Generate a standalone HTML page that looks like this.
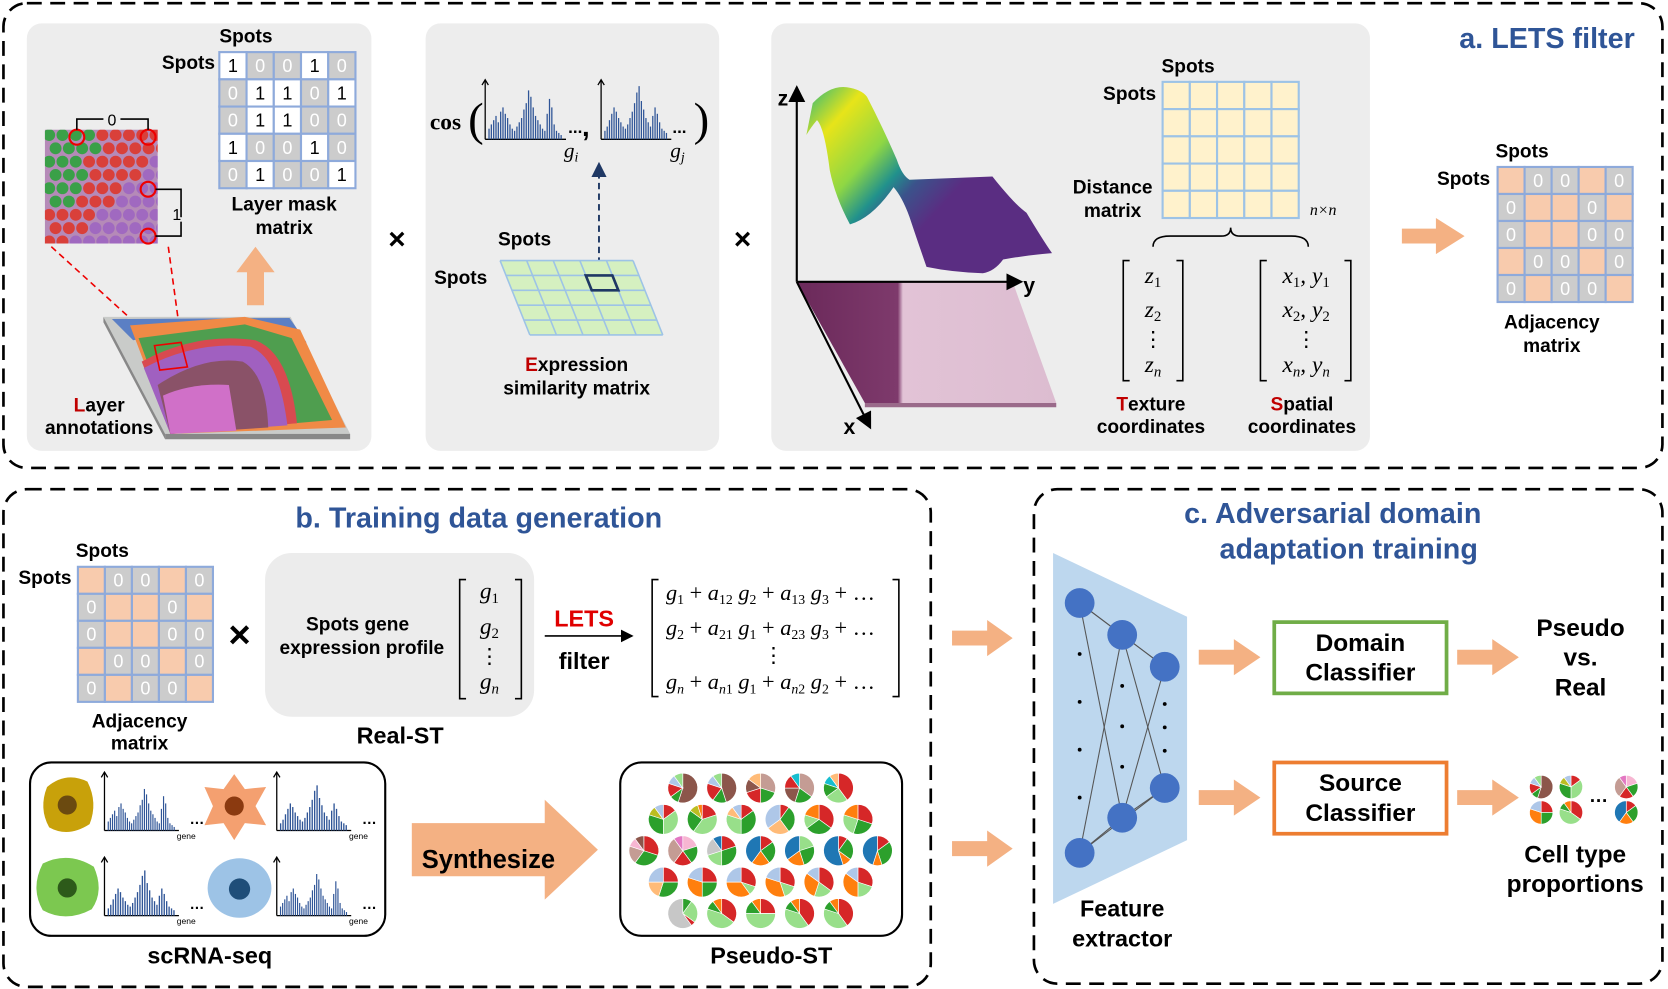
<!DOCTYPE html>
<html><head><meta charset="utf-8"><style>
html,body{margin:0;padding:0;background:#fff;width:1668px;height:989px;overflow:hidden}
svg{display:block}
text{font-family:"Liberation Sans",sans-serif}
.b{font-weight:bold}
.m{font-family:"Liberation Serif",serif;font-style:italic}
</style></head><body>
<svg id="fig" width="1668" height="989" viewBox="0 0 1568 930" xmlns="http://www.w3.org/2000/svg">
<defs>
<linearGradient id="surf" gradientUnits="userSpaceOnUse" x1="758" y1="90" x2="880" y2="200"><stop offset="0" stop-color="#3fbc73"/><stop offset="0.22" stop-color="#e7e419"/><stop offset="0.5" stop-color="#8fd744"/><stop offset="0.68" stop-color="#21918c"/><stop offset="0.8" stop-color="#3b528b"/><stop offset="1" stop-color="#5a2d82"/></linearGradient>
<linearGradient id="histo" gradientUnits="userSpaceOnUse" x1="760" y1="0" x2="1000" y2="0"><stop offset="0" stop-color="#6d2b5c"/><stop offset="0.35" stop-color="#7e3a6c"/><stop offset="0.37" stop-color="#e2c3d6"/><stop offset="1" stop-color="#dcbcd0"/></linearGradient>
<clipPath id="patchclip"><rect x="42" y="122" width="106" height="107"/></clipPath>
<marker id="ah" markerWidth="8" markerHeight="8" refX="7" refY="4" orient="auto"><path d="M0,0 L8,4 L0,8 z" fill="#000"/></marker>
<marker id="ahb" markerWidth="8" markerHeight="8" refX="7" refY="4" orient="auto"><path d="M0,0 L8,4 L0,8 z" fill="#1f3864"/></marker>
</defs>

<!-- Panel A -->
<rect x="3" y="3" width="1560" height="437" rx="22" fill="none" stroke="#000" stroke-width="2.5" stroke-dasharray="14 8"/>
<text x="1537" y="45" text-anchor="end" class="b" font-size="27" fill="#2f5597">a. LETS filter</text>
<rect x="25" y="22" width="324" height="402" rx="14" fill="#ededed"/>
<rect x="400" y="22" width="276" height="402" rx="14" fill="#ededed"/>
<rect x="725" y="22" width="563" height="402" rx="14" fill="#ededed"/>

<g id="layermask"></g>
<text x="231" y="40" text-anchor="middle" class="b" font-size="18">Spots</text>
<text x="177" y="65" text-anchor="middle" class="b" font-size="18">Spots</text>
<text x="267" y="198" text-anchor="middle" class="b" font-size="18">Layer mask</text>
<text x="267" y="220" text-anchor="middle" class="b" font-size="18">matrix</text>
<polygon points="232,287 248,287 248,256 258,256 240,232 222,256 232,256" fill="#f4b183"/>

<g>
<rect x="42" y="122" width="106" height="107" fill="#b58ab8"/>
<g id="hexdots" clip-path="url(#patchclip)"></g>
<circle cx="72" cy="129" r="7" fill="none" stroke="#e00" stroke-width="2"/>
<circle cx="139" cy="129" r="7" fill="none" stroke="#e00" stroke-width="2"/>
<circle cx="139" cy="178" r="7" fill="none" stroke="#e00" stroke-width="2"/>
<circle cx="139" cy="222" r="7" fill="none" stroke="#e00" stroke-width="2"/>
<path d="M72,122 V112 H97 M113,112 H139 V122" fill="none" stroke="#000" stroke-width="1.5"/>
<text x="105" y="118" text-anchor="middle" font-size="15">0</text>
<path d="M146,178 H170 V222 H146" fill="none" stroke="#000" stroke-width="1.5"/>
<text x="166" y="207" text-anchor="middle" font-size="15" fill="#000" stroke="#ededed" stroke-width="3" paint-order="stroke">1</text>
<line x1="48" y1="232" x2="145" y2="320" stroke="#e00" stroke-width="1.5" stroke-dasharray="6 4"/>
<line x1="158" y1="232" x2="172" y2="335" stroke="#e00" stroke-width="1.5" stroke-dasharray="6 4"/>
</g>
<g>
<polygon points="97,298 273,298 329,408 155,408" fill="#c9cbc9"/>
<polygon points="155,408 329,408 329,413 155,413" fill="#888"/>
<polygon points="97,298 155,408 155,413 97,303" fill="#888"/>
<polygon points="105,300 272,299 288,322 200,306 125,320" fill="#5b7fc4"/>
<polygon points="122,306 230,298 282,310 325,402 160,408 135,340" fill="#f08a46"/>
<polygon points="130,318 230,305 274,318 312,395 160,408 140,345" fill="#4f9e4f"/>
<path d="M133,340 Q185,312 240,320 Q272,332 279,398 L160,408 Z" fill="#d84a50"/>
<path d="M135,346 Q185,320 235,326 Q262,336 270,400 L160,408 Z" fill="#a060c0"/>
<path d="M148,362 Q190,334 228,340 Q250,352 252,402 L160,408 Z" fill="#8a5268"/>
<path d="M153,372 Q180,360 215,362 L222,405 L160,408 Z" fill="#d070c8"/>
<polygon points="145,325 170,322 176,345 150,348" fill="none" stroke="#e00" stroke-width="1.5"/>
</g>
<text x="93" y="387" text-anchor="middle" class="b" font-size="18"><tspan fill="#c00000">L</tspan>ayer</text>
<text x="93" y="408" text-anchor="middle" class="b" font-size="18">annotations</text>

<text x="373" y="234" text-anchor="middle" class="b" font-size="28">×</text>
<text x="698" y="234" text-anchor="middle" class="b" font-size="28">×</text>

<!-- cos -->
<text x="404" y="122" font-size="22" class="b" style="font-family:'Liberation Serif',serif">cos</text>
<text x="440" y="127" font-size="44" style="font-family:'Liberation Serif',serif">(</text>
<text x="652" y="127" font-size="44" style="font-family:'Liberation Serif',serif">)</text>
<g id="histA"></g>
<g id="histB"></g>
<text x="534" y="125" font-size="16" class="b">...</text>
<text x="547" y="128" font-size="26" class="b">,</text>
<text x="632" y="125" font-size="16" class="b">...</text>
<text x="530" y="148" class="m" font-size="20">g<tspan font-size="13" dy="4">i</tspan></text>
<text x="630" y="148" class="m" font-size="20">g<tspan font-size="13" dy="4">j</tspan></text>
<line x1="563" y1="258" x2="563" y2="154" stroke="#1f3864" stroke-width="1.8" stroke-dasharray="6 4" marker-end="url(#ahb)"/>
<g id="exprgrid"></g>
<text x="493" y="231" text-anchor="middle" class="b" font-size="18">Spots</text>
<text x="433" y="267" text-anchor="middle" class="b" font-size="18">Spots</text>
<text x="542" y="349" text-anchor="middle" class="b" font-size="18"><tspan fill="#c00000">E</tspan>xpression</text>
<text x="542" y="371" text-anchor="middle" class="b" font-size="18">similarity matrix</text>

<!-- 3D -->
<g>
<polygon points="749,265 952,265 993,379 813,379" fill="url(#histo)"/>
<polygon points="813,379 993,379 993,383 813,383" fill="#9a6a8a"/>
<path d="M758,127 L764,97 Q780,80 796,82 Q810,84 815,91 Q830,120 843,150 Q848,165 855,169 L933,166 Q940,175 949,185 Q958,195 965,200 Q980,225 989,238 Q965,240 943,244 Q935,255 924,257 Q895,256 871,251 Q862,225 855,204 Q848,185 840,176 Q820,205 799,211 Q785,185 780,160 Q775,120 768,113 Q762,120 758,127 Z" fill="url(#surf)"/>
<line x1="749" y1="265" x2="749" y2="82" stroke="#000" stroke-width="2" marker-end="url(#ah)"/>
<line x1="749" y1="265" x2="960" y2="265" stroke="#000" stroke-width="2" marker-end="url(#ah)"/>
<line x1="749" y1="265" x2="818" y2="402" stroke="#000" stroke-width="2" marker-end="url(#ah)"/>
<text x="731" y="99" class="b" font-size="20">z</text>
<text x="962" y="275" class="b" font-size="20">y</text>
<text x="793" y="408" class="b" font-size="20">x</text>
</g>
<g id="distgrid"></g>
<text x="1117" y="68" text-anchor="middle" class="b" font-size="18">Spots</text>
<text x="1062" y="94" text-anchor="middle" class="b" font-size="18">Spots</text>
<text x="1046" y="182" text-anchor="middle" class="b" font-size="18">Distance</text>
<text x="1046" y="204" text-anchor="middle" class="b" font-size="18">matrix</text>
<text x="1244" y="202" text-anchor="middle" class="m" font-size="15">n×n</text>
<path d="M1084,232 Q1084,222 1100,222 H1148 Q1157,222 1157,214 Q1157,222 1166,222 H1214 Q1230,222 1230,232" fill="none" stroke="#000" stroke-width="1.5"/>
<g>
<path d="M1062,245 H1056 V358 H1062 M1106,245 H1112 V358 H1106" fill="none" stroke="#000" stroke-width="1.5"/>
<text x="1084" y="266" text-anchor="middle" class="m" font-size="22">z<tspan font-size="14" dy="4" font-style="normal">1</tspan></text>
<text x="1084" y="298" text-anchor="middle" class="m" font-size="22">z<tspan font-size="14" dy="4" font-style="normal">2</tspan></text>
<text x="1084" y="326" text-anchor="middle" font-size="20">⋮</text>
<text x="1084" y="350" text-anchor="middle" class="m" font-size="22">z<tspan font-size="14" dy="4">n</tspan></text>
</g>
<g>
<path d="M1191,245 H1185 V358 H1191 M1264,245 H1270 V358 H1264" fill="none" stroke="#000" stroke-width="1.5"/>
<text x="1228" y="266" text-anchor="middle" class="m" font-size="22">x<tspan font-size="14" dy="4" font-style="normal">1</tspan><tspan dy="-4">, y</tspan><tspan font-size="14" dy="4" font-style="normal">1</tspan></text>
<text x="1228" y="298" text-anchor="middle" class="m" font-size="22">x<tspan font-size="14" dy="4" font-style="normal">2</tspan><tspan dy="-4">, y</tspan><tspan font-size="14" dy="4" font-style="normal">2</tspan></text>
<text x="1228" y="326" text-anchor="middle" font-size="20">⋮</text>
<text x="1228" y="350" text-anchor="middle" class="m" font-size="22">x<tspan font-size="14" dy="4">n</tspan><tspan dy="-4">, y</tspan><tspan font-size="14" dy="4">n</tspan></text>
</g>
<text x="1082" y="386" text-anchor="middle" class="b" font-size="18"><tspan fill="#c00000">T</tspan>exture</text>
<text x="1082" y="407" text-anchor="middle" class="b" font-size="18">coordinates</text>
<text x="1224" y="386" text-anchor="middle" class="b" font-size="18"><tspan fill="#c00000">S</tspan>patial</text>
<text x="1224" y="407" text-anchor="middle" class="b" font-size="18">coordinates</text>
<polygon points="1318,215 1350,215 1350,205 1377,222 1350,239 1350,229 1318,229" fill="#f4b183"/>
<g id="adjA"></g>
<text x="1431" y="148" text-anchor="middle" class="b" font-size="18">Spots</text>
<text x="1376" y="174" text-anchor="middle" class="b" font-size="18">Spots</text>
<text x="1459" y="309" text-anchor="middle" class="b" font-size="18">Adjacency</text>
<text x="1459" y="331" text-anchor="middle" class="b" font-size="18">matrix</text>

<!-- Panel B -->
<rect x="3" y="460" width="872" height="468" rx="22" fill="none" stroke="#000" stroke-width="2.5" stroke-dasharray="14 8"/>
<text x="450" y="496" text-anchor="middle" class="b" font-size="27" fill="#2f5597">b. Training data generation</text>
<g id="adjB"></g>
<text x="96" y="524" text-anchor="middle" class="b" font-size="18">Spots</text>
<text x="42" y="549" text-anchor="middle" class="b" font-size="18">Spots</text>
<text x="131" y="684" text-anchor="middle" class="b" font-size="18">Adjacency</text>
<text x="131" y="705" text-anchor="middle" class="b" font-size="18">matrix</text>
<text x="225" y="609" text-anchor="middle" class="b" font-size="36">×</text>
<rect x="249" y="520" width="253" height="154" rx="25" fill="#ececec"/>
<text x="336" y="593" text-anchor="middle" class="b" font-size="18">Spots gene</text>
<text x="340" y="615" text-anchor="middle" class="b" font-size="18">expression profile</text>
<g>
<path d="M438,545 H432 V657 H438 M484,545 H490 V657 H484" fill="none" stroke="#000" stroke-width="1.5"/>
<text x="460" y="563" text-anchor="middle" class="m" font-size="22">g<tspan font-size="14" dy="4" font-style="normal">1</tspan></text>
<text x="460" y="596" text-anchor="middle" class="m" font-size="22">g<tspan font-size="14" dy="4" font-style="normal">2</tspan></text>
<text x="460" y="624" text-anchor="middle" font-size="20">⋮</text>
<text x="460" y="648" text-anchor="middle" class="m" font-size="22">g<tspan font-size="14" dy="4">n</tspan></text>
</g>
<text x="376" y="699" text-anchor="middle" class="b" font-size="22">Real-ST</text>
<text x="549" y="589" text-anchor="middle" class="b" font-size="22" fill="#e00000">LETS</text>
<line x1="512" y1="598" x2="594" y2="598" stroke="#000" stroke-width="1.5" marker-end="url(#ah)"/>
<text x="549" y="629" text-anchor="middle" class="b" font-size="22">filter</text>
<g>
<path d="M619,545 H613 V655 H619 M839,545 H845 V655 H839" fill="none" stroke="#000" stroke-width="1.5"/>
<text x="626" y="564" class="m" font-size="21">g<tspan font-size="13" dy="4" font-style="normal">1</tspan><tspan dy="-4" font-style="normal"> + </tspan>a<tspan font-size="13" dy="4" font-style="normal">12</tspan><tspan dy="-4"> g</tspan><tspan font-size="13" dy="4" font-style="normal">2</tspan><tspan dy="-4" font-style="normal"> + </tspan>a<tspan font-size="13" dy="4" font-style="normal">13</tspan><tspan dy="-4"> g</tspan><tspan font-size="13" dy="4" font-style="normal">3</tspan><tspan dy="-4" font-style="normal"> + …</tspan></text>
<text x="626" y="597" class="m" font-size="21">g<tspan font-size="13" dy="4" font-style="normal">2</tspan><tspan dy="-4" font-style="normal"> + </tspan>a<tspan font-size="13" dy="4" font-style="normal">21</tspan><tspan dy="-4"> g</tspan><tspan font-size="13" dy="4" font-style="normal">1</tspan><tspan dy="-4" font-style="normal"> + </tspan>a<tspan font-size="13" dy="4" font-style="normal">23</tspan><tspan dy="-4"> g</tspan><tspan font-size="13" dy="4" font-style="normal">3</tspan><tspan dy="-4" font-style="normal"> + …</tspan></text>
<text x="727" y="623" text-anchor="middle" font-size="20">⋮</text>
<text x="626" y="648" class="m" font-size="21">g<tspan font-size="13" dy="4">n</tspan><tspan dy="-4" font-style="normal"> + </tspan>a<tspan font-size="13" dy="4">n</tspan><tspan font-size="13" font-style="normal">1</tspan><tspan dy="-4"> g</tspan><tspan font-size="13" dy="4" font-style="normal">1</tspan><tspan dy="-4" font-style="normal"> + </tspan>a<tspan font-size="13" dy="4">n</tspan><tspan font-size="13" font-style="normal">2</tspan><tspan dy="-4"> g</tspan><tspan font-size="13" dy="4" font-style="normal">2</tspan><tspan dy="-4" font-style="normal"> + …</tspan></text>
</g>

<rect x="28" y="717" width="334" height="163" rx="20" fill="#fff" stroke="#000" stroke-width="2"/>
<g>
<path d="M44,740 Q62,725 82,735 Q92,755 84,775 Q64,788 46,778 Q36,760 44,740 Z" fill="#c8a10a"/>
<circle cx="63" cy="757" r="9" fill="#6b4a10"/>
<path d="M220,728 L230,742 L250,740 L240,758 L250,776 L230,774 L220,790 L210,774 L192,776 L200,758 L192,740 L210,742 Z" fill="#f4a070"/>
<circle cx="220" cy="758" r="9" fill="#8b3a10"/>
<path d="M40,812 Q64,800 88,815 Q98,838 86,855 Q62,868 40,856 Q28,835 40,812 Z" fill="#7cc850"/>
<circle cx="63" cy="835" r="9" fill="#2d5a1a"/>
<ellipse cx="225" cy="835" rx="30" ry="28" fill="#9dc3e6"/>
<circle cx="225" cy="836" r="10" fill="#1f4e79"/>
</g>
<g id="schists"></g>
<text x="197" y="906" text-anchor="middle" class="b" font-size="22">scRNA-seq</text>
<polygon points="387,774 512,774 512,752 562,799 512,846 512,824 387,824" fill="#f4b183"/>
<text x="459" y="816" text-anchor="middle" class="b" font-size="24">Synthesize</text>
<rect x="583" y="717" width="265" height="163" rx="20" fill="#fff" stroke="#000" stroke-width="2"/>
<g id="pies"></g>
<text x="725" y="906" text-anchor="middle" class="b" font-size="22">Pseudo-ST</text>
<polygon points="895,593 928,593 928,583 952,600 928,617 928,607 895,607" fill="#f4b183"/>
<polygon points="895,791 928,791 928,781 952,798 928,815 928,805 895,805" fill="#f4b183"/>

<!-- Panel C -->
<rect x="972" y="460" width="591" height="465" rx="22" fill="none" stroke="#000" stroke-width="2.5" stroke-dasharray="14 8"/>
<text x="1253" y="492" text-anchor="middle" class="b" font-size="27" fill="#2f5597">c. Adversarial domain</text>
<text x="1268" y="525" text-anchor="middle" class="b" font-size="27" fill="#2f5597">adaptation training</text>
<g>
<polygon points="990,520 1116,580 1116,790 990,850" fill="#bdd7ee"/>
<g stroke="#555" stroke-width="1">
<line x1="1015" y1="567" x2="1055" y2="597"/><line x1="1015" y1="567" x2="1095" y2="627"/><line x1="1015" y1="567" x2="1055" y2="769"/>
<line x1="1055" y1="597" x2="1095" y2="627"/><line x1="1055" y1="597" x2="1095" y2="741"/><line x1="1055" y1="597" x2="1015" y2="802"/>
<line x1="1095" y1="627" x2="1055" y2="769"/><line x1="1095" y1="741" x2="1055" y2="769"/><line x1="1055" y1="769" x2="1015" y2="802"/>
<line x1="1095" y1="741" x2="1015" y2="802"/>
</g>
<g fill="#4472c4">
<circle cx="1015" cy="567" r="14"/><circle cx="1055" cy="597" r="14"/><circle cx="1095" cy="627" r="14"/>
<circle cx="1095" cy="741" r="14"/><circle cx="1055" cy="769" r="14"/><circle cx="1015" cy="802" r="14"/>
</g>
<g fill="#000">
<circle cx="1015" cy="615" r="1.8"/><circle cx="1015" cy="660" r="1.8"/><circle cx="1015" cy="705" r="1.8"/><circle cx="1015" cy="750" r="1.8"/>
<circle cx="1055" cy="645" r="1.8"/><circle cx="1055" cy="683" r="1.8"/><circle cx="1055" cy="721" r="1.8"/>
<circle cx="1095" cy="662" r="1.8"/><circle cx="1095" cy="684" r="1.8"/><circle cx="1095" cy="706" r="1.8"/>
</g>
</g>
<text x="1055" y="862" text-anchor="middle" class="b" font-size="22">Feature</text>
<text x="1055" y="890" text-anchor="middle" class="b" font-size="22">extractor</text>
<polygon points="1127,611 1160,611 1160,601 1185,618 1160,635 1160,625 1127,625" fill="#f4b183"/>
<polygon points="1127,743 1160,743 1160,733 1185,750 1160,767 1160,757 1127,757" fill="#f4b183"/>
<rect x="1198" y="585" width="162" height="67" fill="#fff" stroke="#70ad47" stroke-width="3.5"/>
<text x="1279" y="612" text-anchor="middle" class="b" font-size="23">Domain</text>
<text x="1279" y="640" text-anchor="middle" class="b" font-size="23">Classifier</text>
<rect x="1198" y="717" width="162" height="67" fill="#fff" stroke="#ed7d31" stroke-width="3.5"/>
<text x="1279" y="744" text-anchor="middle" class="b" font-size="23">Source</text>
<text x="1279" y="772" text-anchor="middle" class="b" font-size="23">Classifier</text>
<polygon points="1370,611 1403,611 1403,601 1428,618 1403,635 1403,625 1370,625" fill="#f4b183"/>
<polygon points="1370,743 1403,743 1403,733 1428,750 1403,767 1403,757 1370,757" fill="#f4b183"/>
<text x="1486" y="598" text-anchor="middle" class="b" font-size="23">Pseudo</text>
<text x="1486" y="626" text-anchor="middle" class="b" font-size="23">vs.</text>
<text x="1486" y="654" text-anchor="middle" class="b" font-size="23">Real</text>
<g id="cpies"></g>
<text x="1503" y="754" text-anchor="middle" class="b" font-size="18">…</text>
<text x="1481" y="811" text-anchor="middle" class="b" font-size="23">Cell type</text>
<text x="1481" y="839" text-anchor="middle" class="b" font-size="23">proportions</text>
</svg>
<script>
const NS="http://www.w3.org/2000/svg";
const maskValues=[[1,0,0,1,0],[0,1,1,0,1],[0,1,1,0,0],[1,0,0,1,0],[0,1,0,0,1]];
const histHeightsA=[10,14,18,22,16,26,30,24,20,14,10,8,12,16,20,28,34,46,40,30,22,18,14,10,8,24,38,30,14,8,6,4];
const histHeightsB=[8,12,18,24,30,26,20,16,12,10,14,20,26,34,44,50,36,28,20,16,12,22,30,24,16,10,8,6];
const pieProps=[
 [0.55,0.1,0.15,0.1,0.1],[0.45,0.15,0.2,0.1,0.1],[0.3,0.2,0.2,0.15,0.15],[0.35,0.2,0.2,0.15,0.1],[0.4,0.25,0.15,0.1,0.1],
 [0.15,0.35,0.3,0.1,0.1],[0.2,0.4,0.25,0.1,0.05],[0.15,0.35,0.3,0.1,0.1],[0.1,0.3,0.25,0.35,0.0],[0.35,0.3,0.15,0.2,0.0],[0.3,0.25,0.25,0.2,0.0],
 [0.3,0.3,0.2,0.1,0.1],[0.2,0.2,0.2,0.3,0.1],[0.2,0.3,0.2,0.2,0.1],[0.15,0.25,0.2,0.4,0.0],[0.2,0.25,0.2,0.35,0.0],[0.1,0.25,0.1,0.55,0.0],[0.15,0.3,0.1,0.45,0.0],
 [0.25,0.3,0.2,0.25,0.0],[0.25,0.25,0.3,0.2,0.0],[0.3,0.1,0.35,0.25,0.0],[0.3,0.15,0.35,0.2,0.0],[0.35,0.2,0.3,0.15,0.0],[0.3,0.2,0.35,0.15,0.0],
 [0.1,0.25,0.05,0.6,0.0],[0.35,0.45,0.1,0.1,0.0],[0.25,0.5,0.15,0.1,0.0],[0.4,0.4,0.1,0.1,0.0],[0.4,0.4,0.1,0.1,0.0]];
const pieColorSets=[
 ["#8c564b","#2ca02c","#d62728","#aec7e8","#98df8a"],["#8c564b","#2ca02c","#d62728","#aec7e8","#98df8a"],["#c49c94","#2ca02c","#d62728","#8c564b","#ffbb78"],["#c49c94","#2ca02c","#8c564b","#d62728","#17becf"],["#d62728","#98df8a","#2ca02c","#17becf","#ffbb78"],
 ["#d62728","#98df8a","#2ca02c","#bcbd22","#aec7e8"],["#d62728","#98df8a","#2ca02c","#bcbd22","#ff7f0e"],["#d62728","#2ca02c","#98df8a","#ffbb78","#aec7e8"],["#d62728","#2ca02c","#ffbb78","#aec7e8","#fff"],["#d62728","#2ca02c","#98df8a","#ff7f0e","#fff"],["#d62728","#2ca02c","#98df8a","#ff7f0e","#fff"],
 ["#d62728","#2ca02c","#c49c94","#f7b6d2","#8c564b"],["#f7b6d2","#2ca02c","#d62728","#c49c94","#e377c2"],["#d62728","#2ca02c","#98df8a","#c7c7c7","#1f77b4"],["#d62728","#2ca02c","#ff7f0e","#1f77b4","#fff"],["#98df8a","#2ca02c","#ff7f0e","#1f77b4","#fff"],["#d62728","#2ca02c","#ff7f0e","#1f77b4","#fff"],["#d62728","#2ca02c","#ff7f0e","#1f77b4","#fff"],
 ["#d62728","#2ca02c","#ffbb78","#aec7e8","#fff"],["#d62728","#2ca02c","#ff7f0e","#aec7e8","#fff"],["#d62728","#98df8a","#ff7f0e","#aec7e8","#fff"],["#d62728","#98df8a","#ff7f0e","#aec7e8","#fff"],["#d62728","#98df8a","#ff7f0e","#aec7e8","#fff"],["#d62728","#98df8a","#ff7f0e","#aec7e8","#fff"],
 ["#2ca02c","#98df8a","#d62728","#c7c7c7","#fff"],["#d62728","#98df8a","#2ca02c","#ff7f0e","#fff"],["#d62728","#98df8a","#2ca02c","#ff7f0e","#fff"],["#d62728","#98df8a","#2ca02c","#ff7f0e","#fff"],["#d62728","#98df8a","#2ca02c","#ff7f0e","#fff"]];
const pieRowCounts=[5,6,7,6,5];

function el(tag,attrs,parent){const e=document.createElementNS(NS,tag);for(const k in attrs)e.setAttribute(k,attrs[k]);parent.appendChild(e);return e;}

function matrix(id,x0,y0,cs,onFill,offFill,showOn,onTextColor){
 const g=document.getElementById(id);
 maskValues.forEach((row,r)=>row.forEach((v,c)=>{
  const x=x0+c*cs,y=y0+r*cs;
  const rc=el('rect',{x:x,y:y,width:cs,height:cs,fill:v?onFill:offFill,stroke:'#8eaadb','stroke-width':2},g);
  
  
  if(v&&!showOn)return;
  const t=el('text',{x:x+cs/2,y:y+cs/2+6,'text-anchor':'middle','font-size':17,fill:v?onTextColor:'#fff'},g);
  t.textContent=v?'1':'0';
 }));
}
matrix('layermask',206,49,25.6,'#fff','#cccccc',true,'#000');
matrix('adjA',1408,157,25.4,'#f8cbad','#cccccc',false,'#000');
matrix('adjB',73,533,25.4,'#f8cbad','#cccccc',false,'#000');

(function(){const g=document.getElementById('distgrid');for(let r=0;r<5;r++)for(let c=0;c<5;c++){el('rect',{x:1093+c*25.6,y:77+r*25.6,width:25.6,height:25.6,fill:'#fff2cc',stroke:'#9dc3e6','stroke-width':2},g);}})();

(function(){const g=document.getElementById('exprgrid');
 const P=(u,v)=>[470+u*125+v*28,245+v*70];
 const pts=[P(0,0),P(1,0),P(1,1),P(0,1)].map(p=>p.join(',')).join(' ');
 el('polygon',{points:pts,fill:'#d5f0c0'},g);
 for(let i=0;i<=5;i++){const a=P(i/5,0),b=P(i/5,1);el('line',{x1:a[0],y1:a[1],x2:b[0],y2:b[1],stroke:'#9dc3e6','stroke-width':1.5},g);
  const c=P(0,i/5),d=P(1,i/5);el('line',{x1:c[0],y1:c[1],x2:d[0],y2:d[1],stroke:'#9dc3e6','stroke-width':1.5},g);}
 const q=[P(0.6,0.2),P(0.8,0.2),P(0.8,0.4),P(0.6,0.4)].map(p=>p.join(',')).join(' ');
 el('polygon',{points:q,fill:'none',stroke:'#1f3864','stroke-width':2.5},g);
})();

function hist(g,x0,yb,w,heights,scale,axisH){
 el('line',{x1:x0,y1:yb,x2:x0,y2:yb-axisH,stroke:'#000','stroke-width':1.2},g);
 el('path',{d:`M${x0-3},${yb-axisH+5} L${x0},${yb-axisH} L${x0+3},${yb-axisH+5}`,fill:'none',stroke:'#000','stroke-width':1.2},g);
 el('line',{x1:x0,y1:yb,x2:x0+w,y2:yb,stroke:'#000','stroke-width':1.2},g);
 const bw=(w-6)/heights.length;
 heights.forEach((h,i)=>{const r=el('rect',{x:x0+3+i*bw,y:yb-h*scale,width:bw*0.55,height:h*scale,fill:'#2f5597'},g);
  });
}
hist(document.getElementById('histA'),456,131,76,histHeightsA,1.0,56);
hist(document.getElementById('histB'),565,131,66,histHeightsB,1.0,56);
(function(){const g=document.getElementById('schists');
 [[98,781,histHeightsA],[260,781,histHeightsB],[98,861,histHeightsB],[260,861,histHeightsA]].forEach(([x,y,h])=>{
  hist(g,x,y,70,h,0.85,55);
  const t=el('text',{x:x+80,y:y-6,'font-size':14,'font-weight':'bold'},g);t.textContent='…';
  const t2=el('text',{x:x+68,y:y+8,'font-size':8},g);t2.textContent='gene';
 });
})();

(function(){const g=document.getElementById('hexdots');
 for(let r=0;r<9;r++)for(let c=0;c<9;c++){
  const x=46+c*12.5+(r%2?6:0),y=127+r*12.5;
  let col;
  if(c+r*0.35<3.5&&r<6) col='#3aa048'; else if(c+r>9.5) col='#a069c0'; else col='#d9403a';
  el('circle',{cx:x,cy:y,r:5.6,fill:col},g);
 }})();

function pie(g,cx,cy,r,props,cols){
 let a=-Math.PI/2;const tot=props.reduce((s,v)=>s+v,0);
 props.forEach((p,i)=>{if(p<=0)return;const a2=a+p/tot*2*Math.PI;
  const x1=cx+r*Math.cos(a),y1=cy+r*Math.sin(a),x2=cx+r*Math.cos(a2),y2=cy+r*Math.sin(a2);
  const s=el('path',{d:`M${cx},${cy} L${x1},${y1} A${r},${r} 0 ${a2-a>Math.PI?1:0} 1 ${x2},${y2} Z`,fill:cols[i],stroke:'#fff','stroke-width':0.6},g);
  
  a=a2;});
}
(function(){const g=document.getElementById('pies');let k=0;
 pieRowCounts.forEach((n,r)=>{const y=741+r*29.5;const start=715-(n-1)*18.3;
  for(let i=0;i<n;i++){pie(g,start+i*36.6,y,14,pieProps[k],pieColorSets[k]);k++;}});
 const c=document.getElementById('cpies');
 [[1449,740,0],[1477,740,5],[1529,740,12],[1449,764,19],[1477,764,25],[1529,764,14]].forEach(([x,y,i])=>pie(c,x,y,11,pieProps[i],pieColorSets[i]));
})();
</script>
</body></html>
